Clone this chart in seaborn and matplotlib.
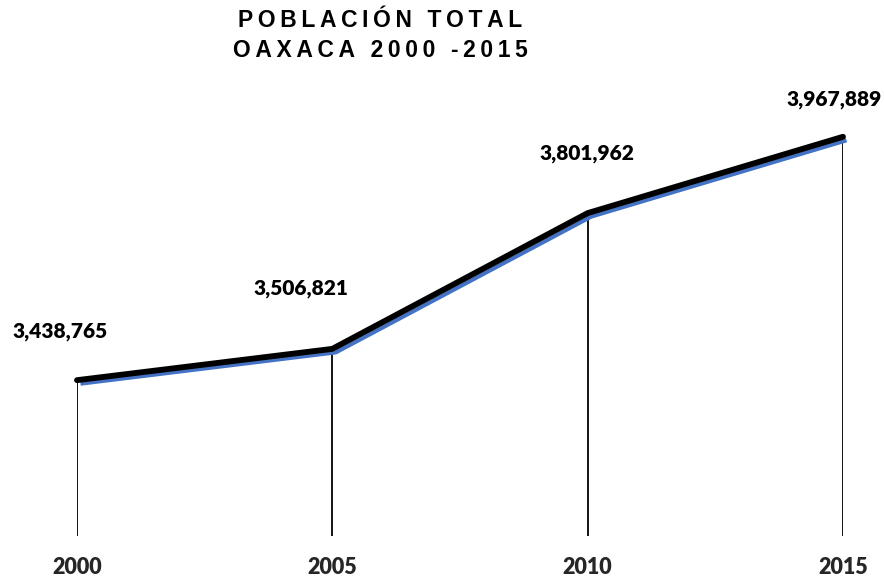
import matplotlib
matplotlib.use("Agg")
import matplotlib.pyplot as plt
import matplotlib.transforms as mtransforms
import pandas as pd
import seaborn as sns

# Población total de Oaxaca por año censal
years = [2000, 2005, 2010, 2015]
population = [3438765, 3506821, 3801962, 3967889]
year_labels = ["2000", "2005", "2010", "2015"]

df = pd.DataFrame({"year": years, "population": population})

sns.set_theme(style="white")
plt.rcParams["font.family"] = ["Liberation Sans", "DejaVu Sans"]

DPI = 100
fig = plt.figure(figsize=(8.84, 5.84), dpi=DPI)
ax = fig.add_axes([77 / 884, 48 / 584, (843 - 77) / 884, (536 - 122) / 584])

ymin, ymax = 3_100_000, 4_000_000
ax.set_xlim(years[0], years[-1])
ax.set_ylim(ymin, ymax)

# drop lines from each point down to the baseline
ax.vlines(df["year"], ymin, df["population"], color="black", lw=1.3, zorder=1)

# blue shadow line, shifted slightly right and down
sns.lineplot(data=df, x="year", y="population", ax=ax, color="#4472C4",
             lw=3.0, zorder=2, solid_capstyle="butt")
shadow = ax.lines[-1]
shadow.set_transform(ax.transData + mtransforms.ScaledTranslation(3.5 / DPI, -3.5 / DPI, fig.dpi_scale_trans))
shadow.set_clip_on(False)

# main black line
sns.lineplot(data=df, x="year", y="population", ax=ax, color="black",
             lw=4.2, zorder=3, solid_capstyle="round", solid_joinstyle="round")
ax.lines[-1].set_clip_on(False)

# value labels (offsets in pixels relative to each point)
label_offsets = [(-17, 49), (-31, 60), (-1, 60), (-9, 37)]
for x, y, (dx, dy) in zip(years, population, label_offsets):
    ax.annotate(f"{y:,}", (x, y), xytext=(dx * 0.72, dy * 0.72),
                textcoords="offset points", ha="center", va="center",
                fontsize=15, fontweight="heavy", family=["Lato", "DejaVu Sans"],
                color="black", annotation_clip=False)

ax.set_xticks(years)
ax.set_xticklabels(year_labels, fontsize=15.5, fontweight="heavy",
                   family=["Lato", "DejaVu Sans"])
ax.tick_params(axis="x", length=0, pad=15)
ax.set_yticks([])
ax.set_xlabel("")
ax.set_ylabel("")
for s in ax.spines.values():
    s.set_visible(False)

# letter-spaced two-line title
title_lines = ["POBLACIÓN TOTAL", "OAXACA 2000 -2015"]
for i, line in enumerate(title_lines):
    spaced = "\u2009".join(line)
    fig.text(380 / 884, 1 - (20.5 + 30 * i) / 584, spaced, ha="center", va="center",
             fontsize=16.5, fontweight="bold", color="black")

fig.savefig("out.png", dpi=DPI)
